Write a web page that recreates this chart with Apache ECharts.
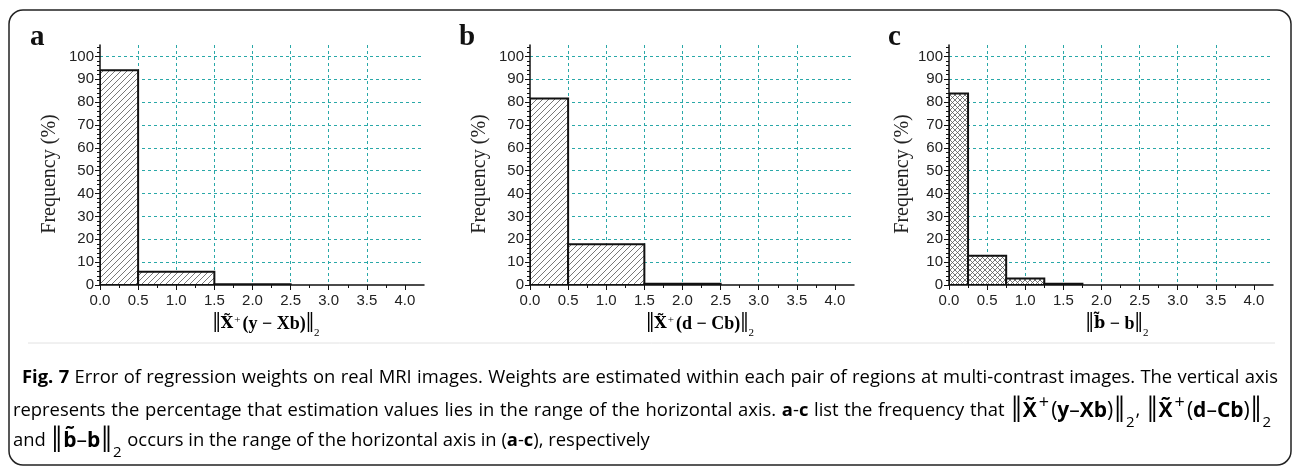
<!DOCTYPE html>
<html><head><meta charset="utf-8">
<script src="https://cdn.jsdelivr.net/npm/echarts@6/dist/echarts.min.js"></script>
<style>html,body{margin:0;padding:0;background:#fff}#c{width:1295px;height:470px}</style>
</head><body><div id="c"></div>
<script>
// ---- data ----
const xTicks = [0, 0.5, 1.0, 1.5, 2.0, 2.5, 3.0, 3.5, 4.0];
const yTicks = [0, 10, 20, 30, 40, 50, 60, 70, 80, 90, 100];
const aEdges = [0, 0.5, 1.5, 2.5];
const aFreq  = [94, 5.8, 0.3];
const bEdges = [0, 0.5, 1.5, 2.5];
const bFreq  = [81.6, 17.8, 0.6];
const cEdges = [0, 0.25, 0.75, 1.25, 1.75];
const cFreq  = [83.8, 12.8, 2.8, 0.6];
const panelLetters = ['a', 'b', 'c'];
const yTitle = 'Frequency (%)';

// caption text segments [style, text]
const cap1 = [['b', 'Fig. 7'], ['r', ' Error of regression weights on real MRI images. Weights are estimated within each pair of regions at multi-contrast images. The vertical axis']];
const cap2 = [['r', 'represents the percentage that estimation values lies in the range of the horizontal axis. '], ['b', 'a'], ['r', '-'], ['b', 'c'], ['r', ' list the frequency that '],
  ['n', '‖'], ['bx', 'X\u0303'], ['sup', '+'], ['p', '('], ['bx', 'y'], ['p', '–'], ['bx', 'Xb'], ['p', ')'], ['n', '‖'], ['sub', '2'], ['r', ', '],
  ['n', '‖'], ['bx', 'X\u0303'], ['sup', '+'], ['p', '('], ['bx', 'd'], ['p', '–'], ['bx', 'Cb'], ['p', ')'], ['n', '‖'], ['sub', '2']];
const cap3 = [['r', 'and '], ['n', '‖'], ['bx', 'b\u0303'], ['p', '–'], ['bx', 'b'], ['n', '‖'], ['sub', '2'], ['r', ' occurs in the range of the horizontal axis in ('], ['b', 'a'], ['r', '-'], ['b', 'c'], ['r', '), respectively']];

// ---- patterns ----
function hatch(cross, step) {
  const c = document.createElement('canvas');
  c.width = c.height = step;
  const g = c.getContext('2d');
  g.fillStyle = '#fff'; g.fillRect(0, 0, step, step);
  g.strokeStyle = '#555'; g.lineWidth = 0.8;
  g.beginPath();
  for (let k = -1; k <= 1; k++) {
    g.moveTo(k * step, step); g.lineTo(k * step + step, 0);
    if (cross) { g.moveTo(k * step, 0); g.lineTo(k * step + step, step); }
  }
  g.stroke();
  return c;
}
const diag = { image: hatch(false, 6), repeat: 'repeat' };
const xhatch = { image: hatch(true, 5), repeat: 'repeat' };

const grids = [
  { left: 100, top: 45, width: 324, height: 240 },
  { left: 530, top: 45, width: 324, height: 240 },
  { left: 949, top: 45, width: 324, height: 240 }
];
const teal = '#2aa8a8';

function xAxis(i) {
  return {
    type: 'value', gridIndex: i, min: 0, max: 4.25, interval: 0.5,
    axisLine: { lineStyle: { color: '#111', width: 1.5 } },
    axisTick: { show: true, length: 5, customValues: xTicks, lineStyle: { color: '#111' } },
    minorTick: { show: true, splitNumber: 2, length: 3, lineStyle: { color: '#111' } },
    axisLabel: { customValues: xTicks, formatter: v => v.toFixed(1), color: '#222', fontFamily: 'Liberation Sans', fontSize: 15, margin: 8 },
    splitLine: { show: true, showMinLine: false, showMaxLine: false, lineStyle: { color: teal, type: [3, 3], width: 1 } }
  };
}
function yAxis(i) {
  return {
    type: 'value', gridIndex: i, min: 0, max: 105, interval: 10,
    axisLine: { show: true, lineStyle: { color: '#111', width: 1.5 } },
    axisTick: { show: true, length: 5, customValues: yTicks, lineStyle: { color: '#111' } },
    minorTick: { show: true, splitNumber: 5, length: 3, lineStyle: { color: '#111' } },
    axisLabel: { customValues: yTicks, color: '#222', fontFamily: 'Liberation Sans', fontSize: 15, margin: 6 },
    splitLine: { show: true, showMinLine: false, lineStyle: { color: teal, type: [3, 3], width: 1 } }
  };
}
function hist(i, edges, freq, fill) {
  const data = freq.map((f, k) => [edges[k], edges[k + 1], f]);
  return {
    type: 'custom', xAxisIndex: i, yAxisIndex: i, data: data, clip: true,
    encode: { x: [0, 1], y: 2 },
    renderItem: function (params, api) {
      const p0 = api.coord([api.value(0), api.value(2)]);
      const p1 = api.coord([api.value(1), 0]);
      return { type: 'rect', shape: { x: p0[0], y: p0[1], width: p1[0] - p0[0], height: p1[1] - p0[1] },
        style: { fill: fill, stroke: '#111', lineWidth: 2 } };
    }
  };
}

const serifRich = {
  n: { fontFamily: 'Liberation Serif', fontSize: 30, fontWeight: 'normal', color: '#222' },
  b: { fontFamily: 'Liberation Serif', fontSize: 18, fontWeight: 'bold', color: '#222' },
  t: { fontFamily: 'DejaVu Serif', fontSize: 16, fontWeight: 'bold', color: '#222' },
  sup: { fontFamily: 'Liberation Serif', fontSize: 11, color: '#222', verticalAlign: 'top', padding: [6, 2, 0, 1] },
  sub: { fontFamily: 'Liberation Serif', fontSize: 11, color: '#222', verticalAlign: 'bottom' }
};
const xTitles = [
  '{n|‖}{t|X\u0303}{sup|+}{b|(y − Xb)}{n|‖}{sub|2}',
  '{n|‖}{t|X\u0303}{sup|+}{b|(d − Cb)}{n|‖}{sub|2}',
  '{n|‖}{t|b\u0303}{b| − b}{n|‖}{sub|2}'
];
const xTitleX = [266, 700, 1117];

const capFont = 18.4;
const capRich = {
  r: { fontFamily: 'Open Sans', fontSize: capFont, fontWeight: 'normal', color: '#333', padding: [0, 0, 0, 0] },
  b: { fontFamily: 'Open Sans', fontSize: capFont, fontWeight: 'bold', color: '#222', padding: [0, 0, 0, 0] },
  bx: { fontFamily: 'Open Sans', fontSize: 21, fontWeight: 'bold', color: '#222', padding: [0, 0, 0, 0] },
  p: { fontFamily: 'Open Sans', fontSize: 21, fontWeight: 'normal', color: '#333', padding: [0, 0, 0, 0] },
  n: { fontFamily: 'Open Sans', fontSize: 38, fontWeight: 'normal', color: '#444', padding: [0, 1, 0, 1] },
  sup: { fontFamily: 'Open Sans', fontSize: 18, fontWeight: 'normal', color: '#333', verticalAlign: 'top', padding: [2, 2, 0, 2] },
  sub: { fontFamily: 'Open Sans', fontSize: 15, fontWeight: 'normal', color: '#333', verticalAlign: 'bottom', padding: [0, 1, 0, 0] }
};

const mctx = document.createElement('canvas').getContext('2d');
function segW(k, t) {
  const s = capRich[k];
  mctx.font = s.fontWeight + ' ' + s.fontSize + 'px "' + s.fontFamily + '"';
  return mctx.measureText(t).width + s.padding[1] + s.padding[3];
}
function tokenize(segs) {
  const tokens = [[]];
  segs.forEach(([k, t]) => {
    t.split(' ').forEach((p, j) => {
      if (j > 0) tokens.push([]);
      if (p) tokens[tokens.length - 1].push([k, p]);
    });
  });
  return tokens.filter(tk => tk.length);
}
function captionLine(segs, y, x0, x1, justify, out) {
  const tokens = tokenize(segs);
  const widths = tokens.map(tk => tk.reduce((s, [k, t]) => s + segW(k, t), 0));
  const total = widths.reduce((a, b) => a + b, 0);
  const gap = justify ? (x1 - x0 - total) / (tokens.length - 1) : segW('r', ' ');
  let x = x0;
  tokens.forEach((tk, i) => {
    out.push({ type: 'text', x: x, y: y, style: { text: tk.map(([k, t]) => '{' + k + '|' + t + '}').join(''), rich: capRich, verticalAlign: 'middle' } });
    x += widths[i] + gap;
  });
}

const graphics = [
  { type: 'rect', shape: { x: 9, y: 10, width: 1282, height: 455, r: 14 }, style: { fill: 'none', stroke: '#222', lineWidth: 1.5 }, z: 10 },
  { type: 'line', shape: { x1: 28, y1: 343, x2: 1275, y2: 343 }, style: { stroke: '#e2e2e2', lineWidth: 1 } }
];
const letterX = [30, 459, 888];
const yTitleX = [50, 480, 903];
panelLetters.forEach((L, i) => {
  graphics.push({ type: 'text', x: letterX[i], y: 52, style: { text: L, font: 'bold 29px "Liberation Serif"', fill: '#111', verticalAlign: 'bottom' } });
  graphics.push({ type: 'text', x: yTitleX[i], y: 174, rotation: Math.PI / 2, style: { text: yTitle, font: '20px "Liberation Serif"', fill: '#222', align: 'center', verticalAlign: 'middle' } });
  graphics.push({ type: 'text', x: xTitleX[i], y: 324, style: { text: xTitles[i], rich: serifRich, align: 'center', verticalAlign: 'middle' } });
});
captionLine(cap1, 378, 22, 1278, true, graphics);
captionLine(cap2, 411, 13, 1272, true, graphics);
captionLine(cap3, 441, 13, 1278, false, graphics);

const chart = echarts.init(document.getElementById('c'), null, { renderer: 'canvas' });
chart.setOption({
  animation: false,
  backgroundColor: '#fff',
  grid: grids,
  xAxis: [xAxis(0), xAxis(1), xAxis(2)],
  yAxis: [yAxis(0), yAxis(1), yAxis(2)],
  series: [hist(0, aEdges, aFreq, diag), hist(1, bEdges, bFreq, diag), hist(2, cEdges, cFreq, xhatch)],
  graphic: graphics
});
</script></body></html>
